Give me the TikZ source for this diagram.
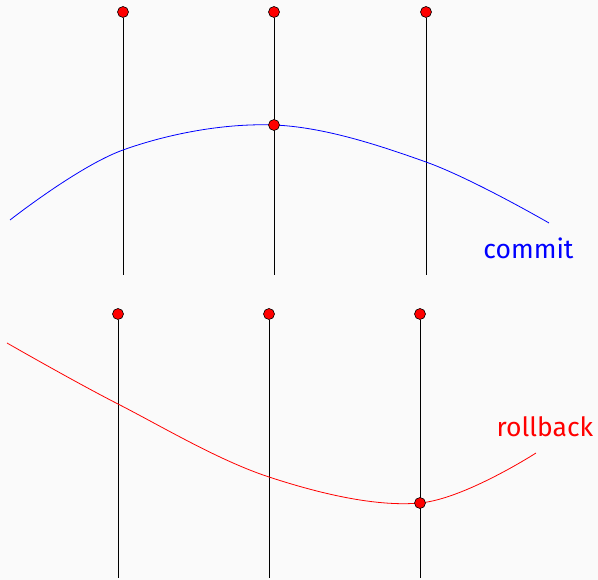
\documentclass[tikz,border=0pt]{standalone}
\usepackage{fontspec}
\setmainfont{Fira Sans}
\definecolor{bg}{HTML}{FAFAFA}
\tikzset{
  pole/.style={draw=black, line width=0.9pt},
  pin/.style={circle, fill=red, draw=black, line width=0.6pt, inner sep=0pt, minimum size=11pt},
  lbl/.style={font=\fontsize{26.5}{30}\selectfont, inner sep=0pt}
}
\begin{document}
\begin{tikzpicture}[x=1pt,y=-1pt]
  \fill[bg] (0,0) rectangle (598,580);
  \useasboundingbox (0,0) rectangle (598,580);

  % upper panel: three poles and the commit curve
  \foreach \n/\x in {a/123,b/274,c/426}{
    \node[pin] (top\n) at (\x,12) {};
    \coordinate (bot\n) at (\x,275);
    \draw[pole] (top\n) -- (bot\n);
  }
  \draw[blue, line width=0.8pt] plot[smooth, tension=0.6] coordinates
    {(10,220) (123,150) (274,125) (426,162) (549,223)};
  \node[pin] (hit1) at (274,125) {};
  \node[lbl, text=blue] (commit) at (528.5,248) {commit};

  % lower panel: three poles and the rollback curve
  \foreach \n/\x in {a/118,b/269,c/420}{
    \node[pin] (utop\n) at (\x,314) {};
    \coordinate (ubot\n) at (\x,578);
    \draw[pole] (utop\n) -- (ubot\n);
  }
  \draw[red, line width=0.8pt] plot[smooth, tension=0.6] coordinates
    {(7,343) (118,404) (269,477) (420,503) (536,453)};
  \node[pin] (hit2) at (420,503) {};
  \node[lbl, text=red] (rollback) at (545,427) {rollback};
\end{tikzpicture}
\end{document}
